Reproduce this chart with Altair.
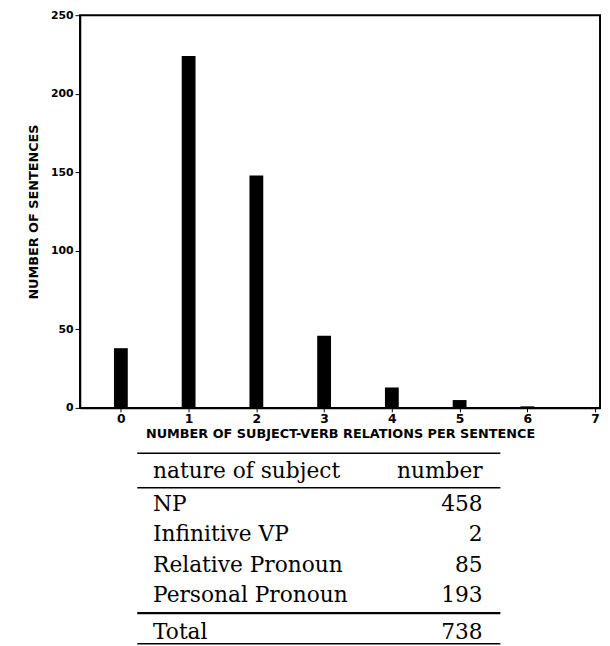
import altair as alt
import pandas as pd

# Histogram data
relations = [0, 1, 2, 3, 4, 5, 6]
sentences = [38, 224, 148, 46, 13, 5, 1]

# Table data
subjects = ["NP", "Infinitive VP", "Relative Pronoun", "Personal Pronoun"]
numbers = [458, 2, 85, 193]
header_left = "nature of subject"
header_right = "number"
total_label = "Total"
total_value = 738

bars_df = pd.DataFrame({"rel": relations, "n": sentences})
table_df = pd.DataFrame({"subject": subjects, "number": [str(v) for v in numbers]})

W, H = 527, 398
SANS = "DejaVu Sans"
SERIF = "DejaVu Serif"
FS = 22
XL, XR = 74, 408

bars = alt.Chart(bars_df).mark_bar(color="black", size=14).encode(
    x=alt.X("rel:Q",
            scale=alt.Scale(domain=[-0.53, 7], nice=False, zero=False),
            axis=alt.Axis(values=[0, 1, 2, 3, 4, 5, 6, 7], format="d",
                          title="NUMBER OF SUBJECT-VERB RELATIONS PER SENTENCE",
                          grid=False, tickSize=4, labelPadding=1,
                          labelFontSize=12.5, titlePadding=3)),
    y=alt.Y("n:Q",
            scale=alt.Scale(domain=[0, 250], nice=False),
            axis=alt.Axis(values=[0, 50, 100, 150, 200, 250],
                          title="NUMBER OF SENTENCES",
                          grid=False, tickSize=5, labelPadding=2,
                          titlePadding=10)),
)

left_col = alt.Chart(table_df).mark_text(
    align="left", baseline="middle", font=SERIF, fontSize=FS, color="black"
).encode(
    x=alt.value(XL),
    y=alt.Y("subject:N", sort=subjects,
            scale=alt.Scale(type="point", range=[495, 588], padding=0),
            axis=None),
    text="subject:N",
)
right_col = alt.Chart(table_df).mark_text(
    align="right", baseline="middle", font=SERIF, fontSize=FS, color="black"
).encode(
    x=alt.value(XR),
    y=alt.Y("subject:N", sort=subjects,
            scale=alt.Scale(type="point", range=[495, 588], padding=0),
            axis=None),
    text="number:N",
)

hdr_df = pd.DataFrame({"a": [header_left], "b": [header_right],
                       "c": [total_label], "d": [str(total_value)]})
hdr_l = alt.Chart(hdr_df).mark_text(align="left", baseline="middle", font=SERIF,
                                    fontSize=FS, color="black").encode(
    x=alt.value(XL), y=alt.value(462), text="a:N")
hdr_r = alt.Chart(hdr_df).mark_text(align="right", baseline="middle", font=SERIF,
                                    fontSize=FS, color="black").encode(
    x=alt.value(XR), y=alt.value(462), text="b:N")
tot_l = alt.Chart(hdr_df).mark_text(align="left", baseline="middle", font=SERIF,
                                    fontSize=FS, color="black").encode(
    x=alt.value(XL), y=alt.value(625), text="c:N")
tot_r = alt.Chart(hdr_df).mark_text(align="right", baseline="middle", font=SERIF,
                                    fontSize=FS, color="black").encode(
    x=alt.value(XR), y=alt.value(625), text="d:N")

def hrule(y, w):
    return alt.Chart(hdr_df).mark_rule(color="black", strokeWidth=w).encode(
        x=alt.value(58), x2=alt.value(426), y=alt.value(y))

rules = [hrule(444, 1.5), hrule(479, 1.5), hrule(606, 2.2), hrule(637, 1.5)]

chart = alt.layer(bars, left_col, right_col, hdr_l, hdr_r, tot_l, tot_r, *rules).resolve_scale(
    y="independent"
).properties(
    width=W, height=H,
    autosize=alt.AutoSizeParams(type="none"),
    padding={"left": 73, "top": 3, "right": 2, "bottom": 236},
    background="white",
).configure_view(
    stroke="black", strokeWidth=2
).configure_axis(
    domainColor="black", domainWidth=1.5, tickColor="black",
    labelFont=SANS, labelFontSize=11, labelFontWeight="bold", labelColor="black",
    titleFont=SANS, titleFontSize=13, titleFontWeight="bold", titleColor="black",
)

chart.save("out.html", embed_options={"renderer": "svg", "actions": False})
